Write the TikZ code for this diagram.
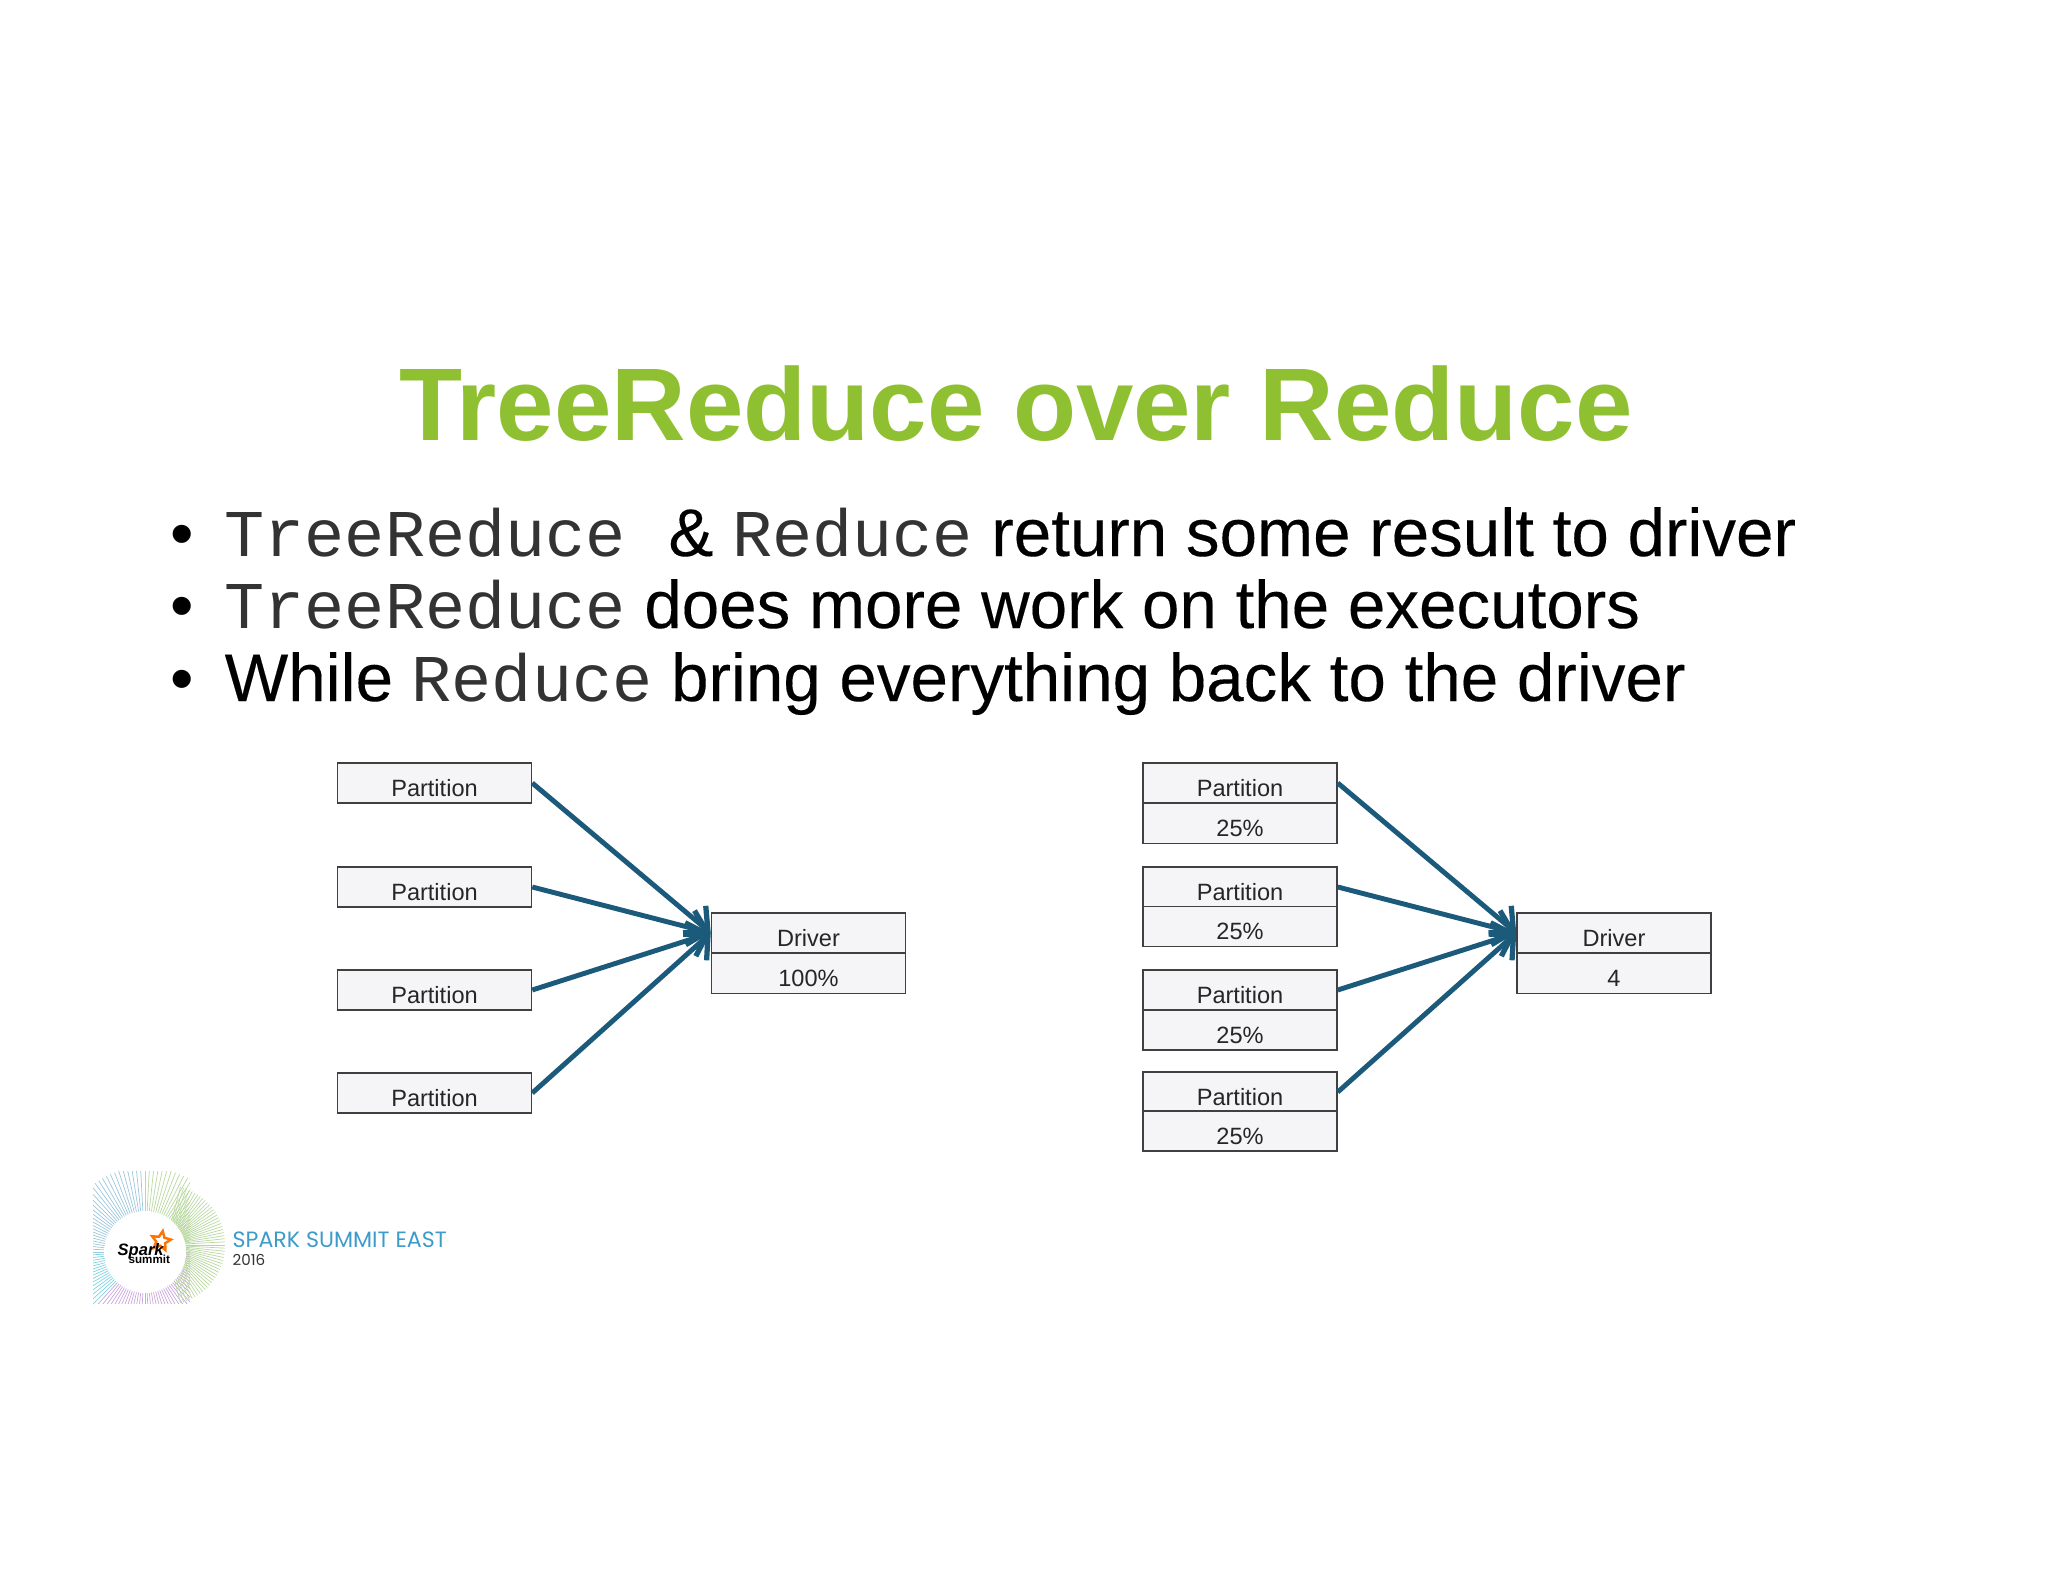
\documentclass[tikz,border=0pt]{standalone}
\usepackage{fontspec}
\setmainfont{Liberation Sans}
\setmonofont[Scale=0.992]{Liberation Mono}
\newfontfamily\bodyfont[FakeBold=0.2]{Liberation Sans}
\newfontfamily\logofont{Poppins}
\usepackage{xcolor}
\usetikzlibrary{shapes.geometric, arrows.meta}

\definecolor{titlegreen}{HTML}{8FC031}
\definecolor{arrowblue}{HTML}{1B5A7A}
\definecolor{boxfill}{HTML}{F5F4F6}
\definecolor{summitblue}{HTML}{3D9BC9}
\definecolor{fancyan}{HTML}{7FD3E0}
\definecolor{fangreen}{HTML}{B9D8A0}
\definecolor{fanviolet}{HTML}{C9A6DC}
\definecolor{fanblue}{HTML}{9CC6DC}

\tikzset{
    bodyline/.style={anchor=base west, inner sep=0pt, font=\bodyfont\fontsize{19.15}{19.15}\selectfont},
    bulletmark/.style={anchor=base, inner sep=0pt, font=\fontsize{19}{19}\selectfont},
    cellbox/.style={draw=black!75, fill=boxfill, line width=0.4pt, minimum width=1.94cm, minimum height=0.4cm, inner sep=0pt, text=black!85, font=\fontsize{6.7}{6.7}\selectfont},
    headcell/.style={cellbox, text height=0.33cm, text depth=0.07cm},
    valuecell/.style={cellbox, text height=0.33cm, text depth=0.07cm},
    feed/.style={arrowblue, line width=1.4pt, -{Straight Barb[length=5pt,width=10pt,line width=1.5pt]}}
}
\newcommand{\codeword}[1]{{\color{black!80}\texttt{#1}}}

\begin{document}
\begin{tikzpicture}[x=0.01cm,y=-0.01cm]
    \useasboundingbox (0,0) rectangle (2048,1582);

    % Title
    \node[anchor=base, inner sep=0pt, font=\fontsize{29.35}{29.35}\selectfont\bfseries, text=titlegreen] (title) at (1016,440) {TreeReduce over Reduce};

    % Bullets
    \foreach \i/\y in {1/556,2/628,3/701}
        \node[bulletmark] (bullet\i) at (182,\y) {\textbullet};
    \node[bodyline] (line1) at (224,556) {\codeword{TreeReduce }\hspace{0.8pt}\& \codeword{Reduce} return some result to driver};
    \node[bodyline] (line2) at (224,628) {\codeword{TreeReduce} does more work on the executors};
    \node[bodyline] (line3) at (224,701) {While \codeword{Reduce} bring everything back to the driver};

    % Left side
    \foreach \i/\y in {1/783,2/887,3/990,4/1093}
        \node[headcell] (left\i) at (434.5,\y) {Partition};
    \node[headcell] (leftdriver) at (808.5,933) {Driver};
    \node[valuecell] (leftvalue) at (808.5,973.5) {100\%};
    \foreach \i in {1,...,4}
        \draw[feed] (left\i.east) -- (leftdriver.west);

    % Right side
    \foreach \i/\y/\v in {1/783/823.5,2/887/926.5,3/990/1030,4/1092/1131}
    {
        \node[headcell] (right\i) at (1240,\y) {Partition};
        \node[valuecell] (rightvalue\i) at (1240,\v) {25\%};
    }
    \node[headcell] (rightdriver) at (1614,933) {Driver};
    \node[valuecell] (rightvalue) at (1614,973.5) {4};
    \foreach \i in {1,...,4}
        \draw[feed] (right\i.east) -- (rightdriver.west);

    % Logo
    \begin{scope}
        \clip (93,1171) rectangle (190,1303);
        \foreach \from/\nxt/\to/\col in {0/3/90/fangreen,93/96/180/fanblue,183/186/225/fancyan,228/231/360/fanviolet}
            \foreach \a in {\from,\nxt,...,\to}
                \draw[\col, line width=0.2pt] (145,1252) -- ++(\a:0.85cm);
    \end{scope}
    \begin{scope}
        \clip (120,1182) rectangle (225,1303);
        \foreach \a in {-75,-72,...,75}
            \draw[fangreen, line width=0.2pt] (165,1245) -- ++(\a:0.6cm);
    \end{scope}
    \node[circle, fill=white, minimum size=0.82cm, inner sep=0pt] (badge) at (145,1252) {};
    \node[star, star points=5, star point ratio=2.1, draw=orange!90!red, fill=white, line width=0.7pt, minimum size=0.2cm, inner sep=0pt, rotate=-10] (logostar) at (161,1241) {};
    \node[anchor=base west, inner sep=0pt, font=\fontsize{4.7}{4.7}\selectfont\bfseries\itshape] (sparkword) at (117,1255) {Spark};
    \node[anchor=base west, inner sep=0pt, font=\fontsize{3.3}{3.3}\selectfont\bfseries] (summitword) at (128,1263) {summit};
    \node[anchor=base west, inner sep=0pt, font=\logofont\fontsize{6.3}{6.3}\selectfont, text=summitblue] (summit) at (232,1247) {SPARK SUMMIT EAST};
    \node[anchor=base west, inner sep=0pt, font=\logofont\fontsize{4.3}{4.3}\selectfont, text=black!80] (year) at (232,1265) {2016};
\end{tikzpicture}
\end{document}
